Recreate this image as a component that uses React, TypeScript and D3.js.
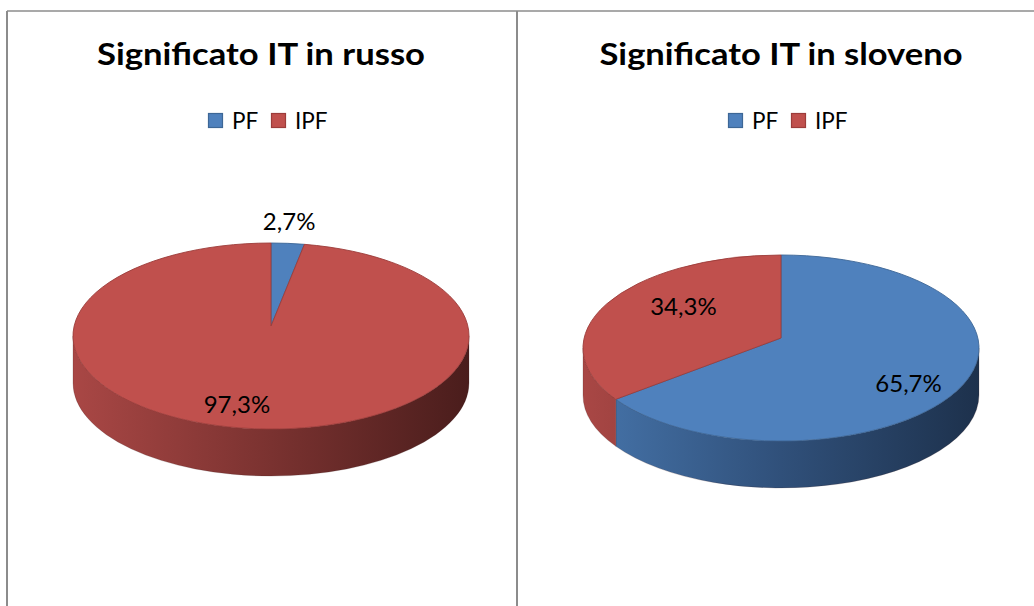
import React from 'react';
import * as d3 from 'd3';

// dati
const categories = ['PF', 'IPF'];
const chartTitles = ['Significato IT in russo', 'Significato IT in sloveno'];
const russoValues = [2.7, 97.3];
const slovenoValues = [65.7, 34.3];

const TOP_COLORS = ['#4F81BD', '#C0504D'];
const EDGE_COLORS = ['#3d6796', '#9c3c3a'];
const SIDE_STOPS = [
  ['#4674aa', '#30507a', '#1d314c'],
  ['#a94745', '#7a3230', '#4a1d1c'],
];

const W = 1034;
const H = 606;
const FONT = 'Lato, "Open Sans", sans-serif';

// layout dei due pannelli
const panels = [
  { values: russoValues, title: chartTitles[0], center: 262, titleX: 261, titleW: 328, cx: 271, cy: 336, nudges: [[-2, -3], [-22, 2]] },
  { values: slovenoValues, title: chartTitles[1], center: 782, titleX: 781, titleW: 363, cx: 781, cy: 348, nudges: [[2, 4], [28, -9]] },
];
const RX = 198;
const RY = 93;
const DEPTH = 47;
const APEX_LIFT = 10;

const fmt = d3.formatLocale({ decimal: ',', thousands: '.', grouping: [3], currency: ['', '€'] }).format('.1f');

function rim(cx: number, cy: number, a: number, dy = 0): [number, number] {
  return [cx + RX * Math.sin(a), cy - RY * Math.cos(a) + dy];
}

function topSlice(cx: number, cy: number, a0: number, a1: number) {
  const p = d3.path();
  const [x0, y0] = rim(cx, cy, a0);
  const [x1, y1] = rim(cx, cy, a1);
  const large = a1 - a0 > Math.PI ? 1 : 0;
  p.moveTo(cx, cy - APEX_LIFT);
  p.lineTo(x0, y0);
  const arcCmd = `A${RX},${RY} 0 ${large} 1 ${x1},${y1}`;
  return `${p.toString()}${arcCmd}Z`;
}

function sideSlice(cx: number, cy: number, a0: number, a1: number) {
  const s = Math.max(a0, Math.PI / 2);
  const e = Math.min(a1, (3 * Math.PI) / 2);
  if (e <= s) return null;
  const [xs, ys] = rim(cx, cy, s);
  const [xe, ye] = rim(cx, cy, e);
  return `M${xs},${ys}A${RX},${RY} 0 0 1 ${xe},${ye}L${xe},${ye + DEPTH}A${RX},${RY} 0 0 0 ${xs},${ys + DEPTH}Z`;
}

function Pie3D({ panel, idx }: { panel: typeof panels[number]; idx: number }) {
  const { values, cx, cy, center, title, titleX, titleW, nudges } = panel;
  const arcs = d3.pie<number>().sort(null).value(d => d)(values);

  return (
    <g>
      <defs>
        {SIDE_STOPS.map((stops, i) => (
          <linearGradient key={i} id={`side-${idx}-${i}`} gradientUnits="userSpaceOnUse" x1={cx - RX} x2={cx + RX} y1={0} y2={0}>
            <stop offset="0" stopColor={stops[0]} />
            <stop offset="0.5" stopColor={stops[1]} />
            <stop offset="1" stopColor={stops[2]} />
          </linearGradient>
        ))}
      </defs>

      <text x={titleX} y={65} textAnchor="middle" fontFamily={FONT} fontWeight="bold" fontSize={31}
        textLength={titleW} lengthAdjust="spacingAndGlyphs" fill="#000">{title}</text>

      {/* legenda */}
      {categories.map((c, i) => {
        const sx = center - 54 + i * 63;
        return (
          <g key={c}>
            <rect x={sx + 0.5} y={113.5} width={14} height={14} fill={TOP_COLORS[i]} stroke={EDGE_COLORS[i]} strokeWidth={1.2} />
            <text x={sx + 24} y={128.5} fontFamily={FONT} fontSize={22.5} fill="#000">{c}</text>
          </g>
        );
      })}

      {/* fianco */}
      {arcs.map((a, i) => {
        const d = sideSlice(cx, cy, a.startAngle, a.endAngle);
        return d ? <path key={`s${i}`} d={d} fill={`url(#side-${idx}-${i})`} stroke="#3a2020" strokeOpacity={0.25} strokeWidth={0.8} /> : null;
      })}

      {/* faccia superiore */}
      {arcs.map((a, i) => (
        <path key={`t${i}`} d={topSlice(cx, cy, a.startAngle, a.endAngle)} fill={TOP_COLORS[i]} stroke={EDGE_COLORS[i]} strokeWidth={0.9} strokeLinejoin="round" />
      ))}

      {/* etichette */}
      {arcs.map((a, i) => {
        const mid = (a.startAngle + a.endAngle) / 2;
        const outside = a.value < 5;
        const f = outside ? 1.2 : 0.72;
        const [lx, ly] = [cx + RX * f * Math.sin(mid), cy - RY * f * Math.cos(mid)];
        return (
          <text key={`l${i}`} x={lx + nudges[i][0]} y={ly + 8 + nudges[i][1]} textAnchor="middle" fontFamily={FONT} fontSize={24} fill="#000">
            {`${fmt(a.value)}%`}
          </text>
        );
      })}
    </g>
  );
}

export default function App() {
  return (
    <svg width={W} height={H} style={{ position: 'absolute', left: 0, top: 0, background: '#fff' }}>
      <rect x={0} y={0} width={W} height={H} fill="#fff" />
      {panels.map((p, i) => <Pie3D key={i} panel={p} idx={i} />)}
      {/* cornice */}
      <line x1={7} y1={11} x2={W} y2={11} stroke="#8c8c8c" strokeWidth={1.6} />
      <line x1={7} y1={11} x2={7} y2={H} stroke="#8c8c8c" strokeWidth={2} />
      <line x1={517} y1={11} x2={517} y2={H} stroke="#8c8c8c" strokeWidth={2} />
    </svg>
  );
}
